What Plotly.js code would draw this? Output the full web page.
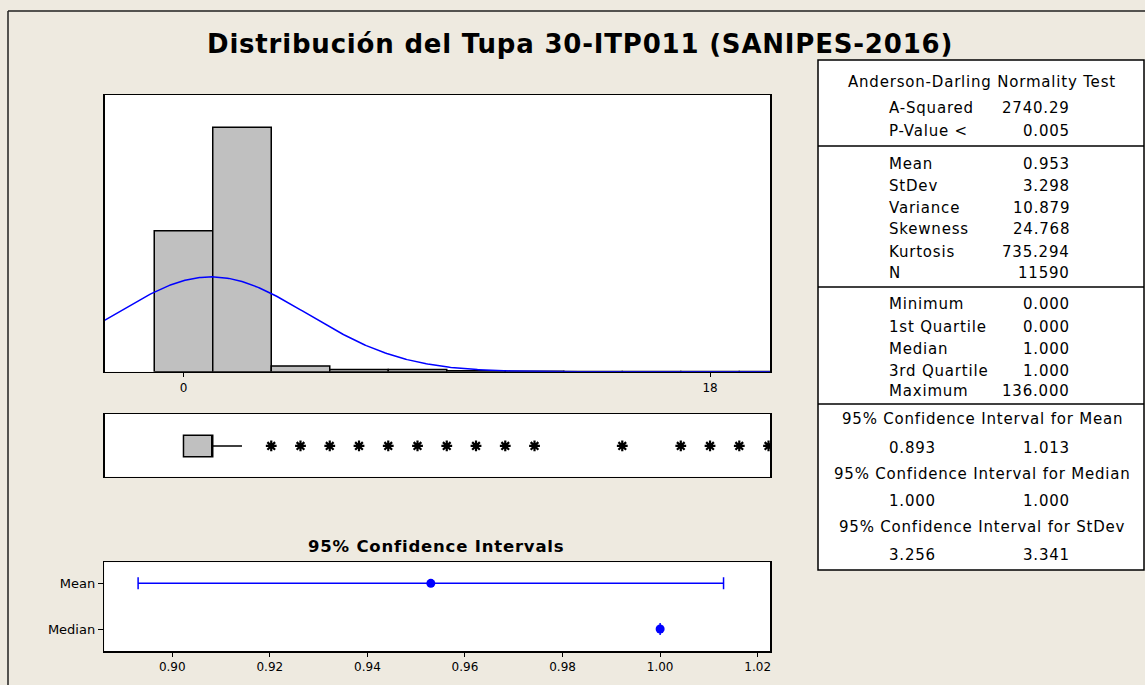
<!DOCTYPE html>
<html>
<head>
<meta charset="utf-8">
<script src="https://cdn.plot.ly/plotly-3.0.1.min.js"></script>
<style>
  html, body { margin: 0; padding: 0; background: #EEEAE0; }
  #chart { width: 1145px; height: 685px; }
  .annotation-text { letter-spacing: 0.8px; }
</style>
</head>
<body>
<div id="chart"></div>
<script>
// ---------------- DATA ----------------
const chartTitle = "Distribución del Tupa 30-ITP011 (SANIPES-2016)";

// Histogram (bin midpoints, bin width 2) and counts
const binCenters = [0, 2, 4, 6, 8, 10, 12, 14, 16, 18, 20];
const binCounts  = [4167, 7223, 168, 68, 62, 25, 12, 8, 5, 4, 3];
const histTickVals = [0, 18];

// Summary statistics (also used for the fitted normal curve)
const nObs = 11590;
const binWidth = 2;
const meanVal = 0.953;
const stdevVal = 3.298;

// Boxplot
const boxQ1 = 0.000;
const boxMedian = 1.000;
const boxQ3 = 1.000;
const boxLowerWhisker = 0;
const boxUpperWhisker = 2;
const outlierValues = [3, 4, 5, 6, 7, 8, 9, 10, 11, 12, 15, 17, 18, 19, 20, 136];

// Confidence intervals panel
const ciCategories = ["Mean", "Median"];
const ciPoint = [0.953, 1.000];
const ciLow   = [0.893, 1.000];
const ciHigh  = [1.013, 1.000];
const ciTickVals = [0.90, 0.92, 0.94, 0.96, 0.98, 1.00, 1.02];

// Table
const adTitle = "Anderson-Darling Normality Test";
const adLabels = ["A-Squared", "P-Value <"];
const adValues = ["2740.29", "0.005"];
const descLabels = ["Mean", "StDev", "Variance", "Skewness", "Kurtosis", "N"];
const descValues = ["0.953", "3.298", "10.879", "24.768", "735.294", "11590"];
const quantLabels = ["Minimum", "1st Quartile", "Median", "3rd Quartile", "Maximum"];
const quantValues = ["0.000", "0.000", "1.000", "1.000", "136.000"];
const ciTitles = ["95% Confidence Interval for Mean", "95% Confidence Interval for Median", "95% Confidence Interval for StDev"];
const ciTableLow  = ["0.893", "1.000", "3.256"];
const ciTableHigh = ["1.013", "1.000", "3.341"];

// ---------------- LAYOUT HELPERS ----------------
const W = 1145, H = 685;
const px = v => v / W;
const py = v => 1 - v / H;
const FONT = "DejaVu Sans, Verdana, sans-serif";
const histRange = [-2.7, 20.05];

// fitted normal curve scaled to counts
const curveX = [], curveY = [];
for (let x = histRange[0]; x <= histRange[1] + 1e-9; x += 0.05) {
  curveX.push(x);
  const z = (x - meanVal) / stdevVal;
  curveY.push(nObs * binWidth * Math.exp(-0.5 * z * z) / (stdevVal * Math.sqrt(2 * Math.PI)));
}

const traces = [
  { type: "bar", x: binCenters, y: binCounts, width: binWidth, xaxis: "x", yaxis: "y",
    marker: { color: "#C0C0C0", line: { color: "#000000", width: 1.5 } }, hoverinfo: "x+y" },
  { type: "scatter", mode: "lines", x: curveX, y: curveY, xaxis: "x", yaxis: "y",
    line: { color: "#0000FF", width: 1.5 }, hoverinfo: "skip" },
  { type: "box", orientation: "h", xaxis: "x2", yaxis: "y2", y: [0],
    q1: [boxQ1], median: [boxMedian], q3: [boxQ3],
    lowerfence: [boxLowerWhisker], upperfence: [boxUpperWhisker],
    width: 0.7, whiskerwidth: 0, boxpoints: false,
    fillcolor: "#C0C0C0", line: { color: "#000000", width: 1.5 } },
  { type: "scatter", mode: "markers", xaxis: "x2", yaxis: "y2",
    x: outlierValues, y: outlierValues.map(() => 0),
    marker: { symbol: "asterisk-open", size: 9, color: "#000000", line: { color: "#000000", width: 2.2 } } },
  { type: "scatter", mode: "markers", xaxis: "x3", yaxis: "y3",
    x: ciPoint, y: ciCategories,
    marker: { color: "#0000FF", size: 9, symbol: "circle" },
    error_x: { type: "data", symmetric: false,
      array: ciHigh.map((h, i) => h - ciPoint[i]),
      arrayminus: ciLow.map((l, i) => ciPoint[i] - l),
      color: "#0000FF", thickness: 1.5, width: 6 } }
];

const annotations = [];
function ann(text, x, y, anchor, size, bold) {
  annotations.push({ xref: "paper", yref: "paper", x: px(x), y: py(y), xanchor: anchor, yanchor: "middle",
    text: bold ? "<b>" + text + "</b>" : text, showarrow: false,
    font: { family: FONT, size: size, color: "#000000" } });
}
ann(chartTitle, 580, 44, "center", 26, true);
ann("95% Confidence Intervals", 436, 546, "center", 16.5, true);

const TS = 15;
const labX = 887, valX = 1072, tableCx = 982;
ann(adTitle, tableCx, 82, "center", TS);
const adY = [108, 131];
adLabels.forEach((l, i) => { ann(l, labX, adY[i], "left", TS); ann(adValues[i], valX, adY[i], "right", TS); });
const descY = [164, 186, 207.5, 229.5, 251.5, 273];
descLabels.forEach((l, i) => { ann(l, labX, descY[i], "left", TS); ann(descValues[i], valX, descY[i], "right", TS); });
const quantY = [304, 326.5, 349, 370.5, 391];
quantLabels.forEach((l, i) => { ann(l, labX, quantY[i], "left", TS); ann(quantValues[i], valX, quantY[i], "right", TS); });
const ciTitleY = [419, 474, 527], ciValY = [448, 501, 555];
ciTitles.forEach((t, i) => {
  ann(t, tableCx, ciTitleY[i], "center", TS);
  ann(ciTableLow[i], labX, ciValY[i], "left", TS);
  ann(ciTableHigh[i], valX, ciValY[i], "right", TS);
});

const shapes = [
  // outer frame
  { type: "line", xref: "paper", yref: "paper", x0: px(8), x1: px(1145), y0: py(11), y1: py(11), line: { color: "#202020", width: 1.5 } },
  { type: "line", xref: "paper", yref: "paper", x0: px(8), x1: px(8), y0: py(11), y1: py(685), line: { color: "#202020", width: 1.5 } },
  // table
  { type: "rect", xref: "paper", yref: "paper", x0: px(818), x1: px(1144), y0: py(60), y1: py(570), fillcolor: "#FFFFFF", line: { color: "#000000", width: 1.5 }, layer: "below" },
  { type: "line", xref: "paper", yref: "paper", x0: px(818), x1: px(1144), y0: py(146), y1: py(146), line: { color: "#000000", width: 1.5 } },
  { type: "line", xref: "paper", yref: "paper", x0: px(818), x1: px(1144), y0: py(287), y1: py(287), line: { color: "#000000", width: 1.5 } },
  { type: "line", xref: "paper", yref: "paper", x0: px(818), x1: px(1144), y0: py(404), y1: py(404), line: { color: "#000000", width: 1.5 } }
];

const axisBase = { showline: true, mirror: true, linecolor: "#000000", linewidth: 1.5, showgrid: false, zeroline: false,
  tickfont: { family: FONT, size: 12, color: "#000000" }, tickcolor: "#000000" };

const layout = {
  width: W, height: H,
  margin: { l: 0, r: 0, t: 0, b: 0 },
  paper_bgcolor: "#EEEAE0", plot_bgcolor: "#FFFFFF",
  showlegend: false, bargap: 0,
  font: { family: FONT, color: "#000000" },
  xaxis: Object.assign({}, axisBase, { domain: [px(104.5), px(770)], anchor: "y", range: histRange,
    tickmode: "array", tickvals: histTickVals, ticks: "outside", ticklen: 4 }),
  yaxis: Object.assign({}, axisBase, { domain: [py(371.7), py(95)], anchor: "x", range: [0, 8180],
    showticklabels: false, ticks: "" }),
  xaxis2: Object.assign({}, axisBase, { domain: [px(104.5), px(770)], anchor: "y2", range: histRange,
    showticklabels: false, ticks: "" }),
  yaxis2: Object.assign({}, axisBase, { domain: [py(476.7), py(414)], anchor: "x2", range: [-1, 1.04],
    showticklabels: false, ticks: "" }),
  xaxis3: Object.assign({}, axisBase, { domain: [px(104.3), px(770)], anchor: "y3", range: [0.88607, 1.02252],
    tickmode: "array", tickvals: ciTickVals, tickformat: ".2f", ticks: "outside", ticklen: 4 }),
  yaxis3: Object.assign({}, axisBase, { domain: [py(651), py(562.3)], anchor: "x3", type: "category",
    categoryarray: ciCategories.slice().reverse(), categoryorder: "array", range: [-0.48, 1.46],
    ticks: "outside", ticklen: 5, tickfont: { family: FONT, size: 13, color: "#000000" } }),
  annotations: annotations,
  shapes: shapes
};

Plotly.newPlot("chart", traces, layout, { displayModeBar: false, staticPlot: true });
</script>
</body>
</html>
